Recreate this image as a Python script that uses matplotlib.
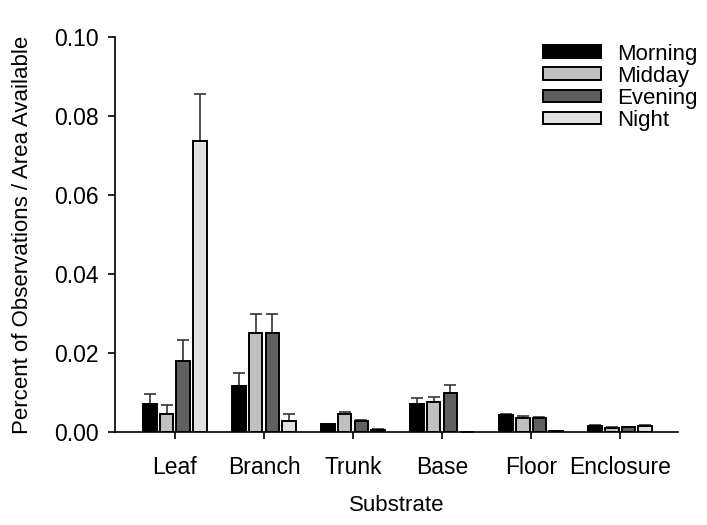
import matplotlib.pyplot as plt
import numpy as np

plt.rcParams['font.family'] = ['Liberation Sans', 'DejaVu Sans']

substrates = ["Leaf", "Branch", "Trunk", "Base", "Floor", "Enclosure"]
periods = ["Morning", "Midday", "Evening", "Night"]

morning = [0.0072, 0.0116, 0.0020, 0.0072, 0.0043, 0.0015]
midday = [0.0047, 0.0250, 0.0047, 0.0076, 0.0035, 0.0011]
evening = [0.0180, 0.0251, 0.0028, 0.0100, 0.0035, 0.0013]
night = [0.0737, 0.0027, 0.0006, 0.0, 0.0002, 0.0016]

morning_err = [0.0025, 0.0034, 0.0001, 0.0015, 0.0004, 0.0002]
midday_err = [0.0021, 0.0050, 0.0004, 0.0014, 0.0005, 0.0001]
evening_err = [0.0053, 0.0049, 0.0002, 0.0019, 0.0004, 0.0001]
night_err = [0.0120, 0.0019, 0.0001, 0.0, 0.0, 0.0001]

vals = [morning, midday, evening, night]
errs = [morning_err, midday_err, evening_err, night_err]
colors = ["#000000", "#c0c0c0", "#606060", "#e0e0e0"]

fig = plt.figure(figsize=(7.07, 5.25), dpi=100)
ax = fig.add_axes([0.163, 0.177, 0.796, 0.7524])

x = np.arange(len(substrates))
pitch = 0.1875
w = 0.152
for i in range(4):
    pos = x + (i - 1.5) * pitch
    ax.bar(pos, vals[i], w, color=colors[i], edgecolor="black", linewidth=1.4,
           label=periods[i], zorder=2)
    ax.errorbar(pos, vals[i], yerr=[np.zeros(len(x)), errs[i]], fmt="none",
                ecolor="#333333", elinewidth=1.2, capsize=4, capthick=1.2, zorder=1)

ax.set_xlim(-0.67, 5.65)
ax.set_ylim(0, 0.10)
ax.set_yticks([0, 0.02, 0.04, 0.06, 0.08, 0.10])
ax.set_yticklabels(["0.00", "0.02", "0.04", "0.06", "0.08", "0.10"])
ax.set_xticks(x)
ax.set_xticklabels(substrates)
ax.spines["top"].set_visible(False)
ax.spines["right"].set_visible(False)
ax.spines["left"].set_linewidth(1.2)
ax.spines["bottom"].set_linewidth(1.2)
ax.tick_params(width=1.2, length=5)
ax.tick_params(axis="x", labelsize=16.5, pad=12)
ax.tick_params(axis="y", labelsize=16.5, pad=7)
ax.set_xlabel("Substrate", fontsize=16, labelpad=12)
ax.set_ylabel("Percent of Observations / Area Available", fontsize=16, labelpad=15)

leg = ax.legend(loc="upper left", bbox_to_anchor=(0.768, 0.917),
                bbox_transform=fig.transFigure, frameon=False,
                fontsize=16, handlelength=2.6, handleheight=0.5,
                handletextpad=0.75, labelspacing=0.05,
                borderpad=0, borderaxespad=0)

fig.savefig("out.png", dpi=100)
